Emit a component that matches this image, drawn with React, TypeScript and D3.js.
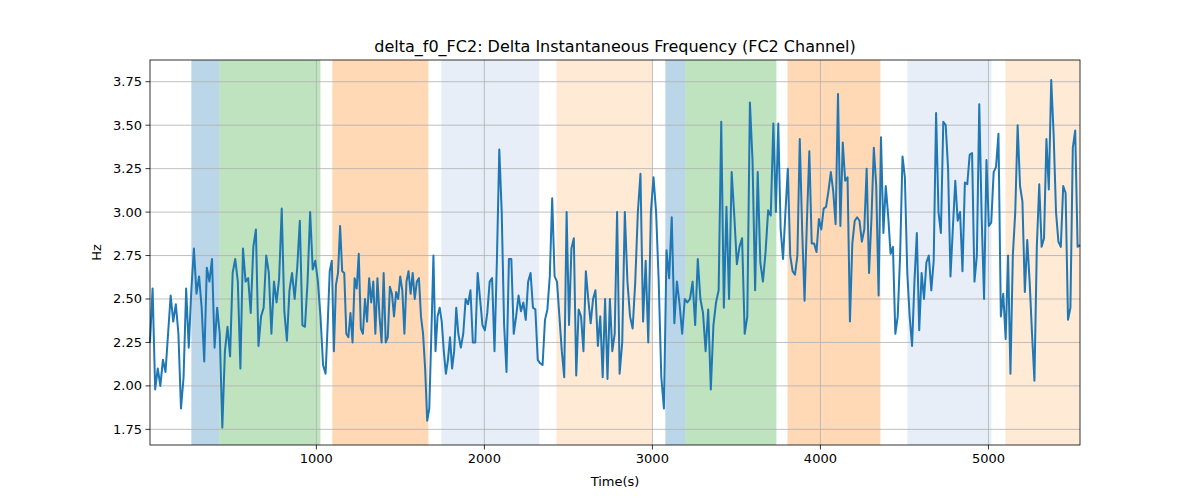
import React from "react";
import * as d3 from "d3";

const seg1 = [2.25,2.56,1.98,2.1,2.0,2.15,2.08,2.3,2.52,2.37,2.47,2.3,1.87,2.05,2.56,2.22,2.55,2.79,2.53,2.63,2.45,2.14,2.68,2.6,2.73,2.22,2.45,2.3,1.76,2.2,2.34,2.17,2.65,2.73,2.6,2.1,2.79,2.6,2.62,2.42,2.8,2.9,2.23,2.4,2.45,2.75,2.65,2.3,2.6,2.48,2.62,3.02,2.43,2.26,2.55,2.65,2.5,2.68,2.95,2.35,2.34,2.6,3.0,2.67,2.72,2.6,2.4,2.12];
const seg2 = [2.07,2.35,2.66,2.72,2.2,2.58,2.65,2.92,2.66,2.65,2.3,2.28,2.42,2.25,2.62,2.56,2.76,2.33,2.3,2.5,2.37,2.62,2.48,2.6,2.3,2.62,2.4,2.25,2.65,2.25,2.28,2.57,2.53,2.4,2.54,2.5,2.63,2.55,2.3,2.6,2.66,2.53,2.65,2.5,2.6,2.62,2.4,2.3,2.1,1.8,1.87,2.3,2.75,2.2,2.4,2.45,2.37,2.2,2.07,2.15,2.28,2.1,2.2,2.45,2.3];
const seg3 = [2.22,2.3,2.5,2.47,2.55,2.25,2.25,2.65,2.5,2.35,2.32,2.42,2.6,2.62,2.2,2.72,3.36,3.0,2.35,2.08,2.73,2.73,2.3,2.4,2.52,2.43,2.48,2.38,2.6,2.65,2.45,2.44,2.15,2.13,2.12,2.38,2.44,2.63,3.08,2.63,2.6,2.4,2.2,2.05,3.0,2.35,2.79,2.85,2.06,2.44,2.4,2.2,2.66,2.5,2.36,2.5,2.55,2.23,2.4,2.05,2.5,2.04,2.5,2.2,2.3,3.0];
const seg4 = [2.07,2.25,3.0,2.6,2.4,2.33,2.6,3.0,3.22,2.37,2.72,2.25,3.0,3.2,3.0,2.6,2.05,1.87,2.78,2.62,2.97,2.36,2.6,2.47,2.3,2.5,2.48,2.5,2.6,2.35,2.73,2.5,2.42,2.2,2.44,1.98,2.35,2.48,2.55,3.52,2.45,3.03,2.5,3.23,2.98,2.7,2.8,2.85,2.3,2.4,3.63,3.3,2.55,3.23,2.71,2.6,2.77,3.01,2.98,3.51];
const seg5 = [3.0,3.51,2.9,2.73,3.0,3.25,2.75,2.66,2.64,2.75,3.42,2.9,2.49,2.95,3.35,2.82,2.82,2.77,2.96,2.9,3.02,3.03,3.12,3.23,3.12,2.93,3.68,2.92,3.4,3.18,3.2,2.37,2.82,2.95,2.97,2.95,2.83,2.9,3.25,2.65,2.96,3.37,3.15,2.52,3.43,2.88,3.15,2.98,2.76,2.8,2.3,2.4,2.75,3.32,3.2,2.65,2.4,2.23,2.6,2.88,2.32,2.65,2.5,2.71,2.75];
const seg6 = [2.55,2.72,3.57,3.0,2.88,3.52,3.5,3.25,2.63,2.91,3.18,2.95,3.0,2.66,3.17,3.16,3.33,3.34,2.6,2.75,3.62,2.97,2.5,3.3,2.92,2.94,3.23,3.26,3.45,2.4,2.53,2.27,2.75,2.07,2.75,3.0,3.5,3.15,3.06,2.54,2.84,2.6,2.3,2.03,2.8,3.16,2.8,2.85,3.42,3.13,3.76,3.45,3.0,2.83,2.8,3.15,3.11,2.38,2.45,3.37,3.47,2.8,2.81];
// time span of each segment [start, end]
const segSpans: [number, number][] = [[10, 1040], [1055, 1845], [1860, 2790], [2805, 3720], [3735, 4645], [4660, 5545]];
const segments = [seg1, seg2, seg3, seg4, seg5, seg6];

const bands = [
  { x0: 256, x1: 423, color: "#1f77b4" },
  { x0: 423, x1: 1024, color: "#2ca02c" },
  { x0: 1095, x1: 1667, color: "#ff7f0e" },
  { x0: 1744, x1: 2327, color: "#aec7e8" },
  { x0: 2429, x1: 3000, color: "#ffbb78" },
  { x0: 3077, x1: 3196, color: "#1f77b4" },
  { x0: 3196, x1: 3738, color: "#2ca02c" },
  { x0: 3804, x1: 4357, color: "#ff7f0e" },
  { x0: 4518, x1: 5018, color: "#aec7e8" },
  { x0: 5101, x1: 5542, color: "#ffbb78" },
];
const xTicks = [1000, 2000, 3000, 4000, 5000];
const yTicks = [1.75, 2.0, 2.25, 2.5, 2.75, 3.0, 3.25, 3.5, 3.75];

const W = 1200, H = 500;
const m = { left: 150, right: 1080, top: 60, bottom: 445 };

export default function App() {
  const x = d3.scaleLinear().domain([10, 5545]).range([m.left, m.right]);
  const y = d3.scaleLinear().domain([1.66, 3.875]).range([m.bottom, m.top]);
  const pts: [number, number][] = [];
  segments.forEach((s, k) => {
    const [a, b] = segSpans[k];
    s.forEach((v, i) => pts.push([a + ((b - a) * i) / (s.length - 1), v]));
  });
  const line = d3.line<[number, number]>().x(d => x(d[0])).y(d => y(d[1]));
  const font = "DejaVu Sans, sans-serif";
  return (
    <svg width={W} height={H} style={{ position: "absolute", left: 0, top: 0 }} fontFamily={font}>
      <rect width={W} height={H} fill="#fff" />
      {bands.map((b, i) => (
        <rect key={i} x={x(b.x0)} y={m.top} width={x(b.x1) - x(b.x0)} height={m.bottom - m.top} fill={b.color} opacity={0.3} />
      ))}
      {xTicks.map(t => <line key={t} x1={x(t)} x2={x(t)} y1={m.top} y2={m.bottom} stroke="#b0b0b0" strokeWidth={0.8} />)}
      {yTicks.map(t => <line key={t} x1={m.left} x2={m.right} y1={y(t)} y2={y(t)} stroke="#b0b0b0" strokeWidth={0.8} />)}
      <path d={line(pts) ?? ""} fill="none" stroke="#1f77b4" strokeWidth={2} strokeLinejoin="round" />
      <rect x={m.left} y={m.top} width={m.right - m.left} height={m.bottom - m.top} fill="none" stroke="#000" strokeWidth={0.8} />
      {xTicks.map(t => (
        <g key={t}>
          <line x1={x(t)} x2={x(t)} y1={m.bottom} y2={m.bottom + 4.5} stroke="#000" strokeWidth={0.8} />
          <text x={x(t)} y={m.bottom + 18} fontSize={13} textAnchor="middle">{t}</text>
        </g>
      ))}
      {yTicks.map(t => (
        <g key={t}>
          <line x1={m.left - 4.5} x2={m.left} y1={y(t)} y2={y(t)} stroke="#000" strokeWidth={0.8} />
          <text x={m.left - 8} y={y(t) + 4.5} fontSize={13} textAnchor="end">{t.toFixed(2)}</text>
        </g>
      ))}
      <text x={(m.left + m.right) / 2} y={486} fontSize={13} textAnchor="middle">Time(s)</text>
      <text transform={`translate(101,${(m.top + m.bottom) / 2}) rotate(-90)`} fontSize={13} textAnchor="middle">Hz</text>
      <text x={(m.left + m.right) / 2} y={52} fontSize={16} textAnchor="middle">delta_f0_FC2: Delta Instantaneous Frequency (FC2 Channel)</text>
    </svg>
  );
}
